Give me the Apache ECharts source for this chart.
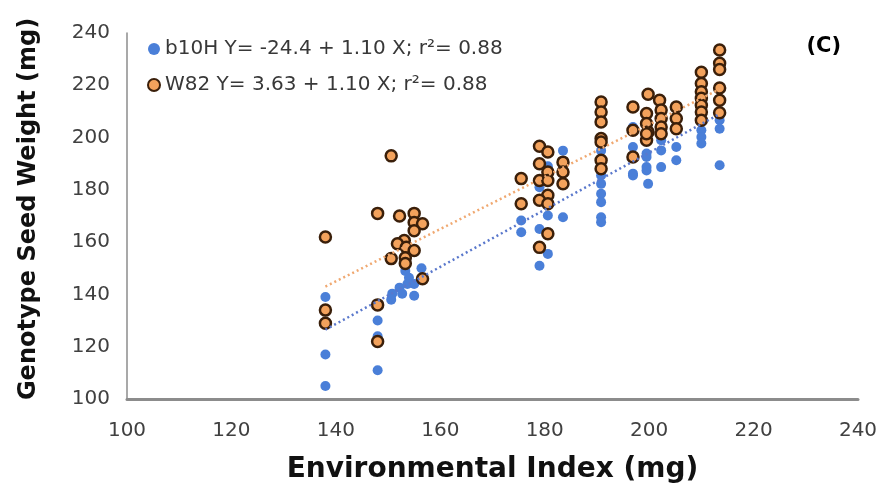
<!DOCTYPE html>
<html>
<head>
<meta charset="utf-8">
<script src="https://cdn.jsdelivr.net/npm/echarts@6/dist/echarts.min.js"></script>
<style>
  html, body { margin: 0; padding: 0; background: #fff; }
  #chart { width: 891px; height: 489px; }
</style>
</head>
<body>
<div id="chart"></div>
<script>
// axis ticks
const xTicks = [100, 120, 140, 160, 180, 200, 220, 240];
const yTicks = [100, 120, 140, 160, 180, 200, 220, 240];

// b10H points [environmental index, seed weight]
const b10H = [
  [138, 139], [138, 117], [138, 105],
  [148, 130], [148, 124], [148, 111],
  [156.4, 150], [153.3, 149], [154, 146.4], [155, 144], [152.2, 142.6], [150.8, 140.3],
  [150.6, 138], [155, 139.5], [152.7, 140.3], [153.7, 144],
  [175.5, 168.3], [175.5, 163.8],
  [179, 181], [180.6, 170.2], [179, 165], [180.6, 155.5], [179, 151], [180.6, 189],
  [183.5, 195], [183.5, 169.5],
  [190.8, 195], [190.8, 185.5], [190.8, 182.3], [190.8, 178.5], [190.8, 175.3], [190.8, 169.5], [190.8, 167.6],
  [196.9, 204], [196.9, 196.4], [196.9, 186.2], [199.5, 188.7], [199.8, 182.3], [199.5, 192.6], [199.5, 193.9],
  [202.3, 195.1], [205.2, 196.4], [202.3, 188.7], [205.2, 191.3], [199.5, 187.4], [196.9, 185.5], [202.3, 199],
  [210, 202.8], [210, 200.2], [210, 197.7],
  [213.5, 206.6], [213.5, 203.4], [213.5, 189.4]
];

// W82 points
const w82 = [
  [138, 162], [138, 134], [138, 129],
  [148, 171], [148, 136], [148, 122],
  [150.6, 193], [152.2, 170], [155, 171], [155, 167.5], [156.6, 167], [155, 164.4], [153.1, 160.6],
  [151.8, 159.4], [153.5, 158], [155, 156.8], [150.6, 153.7], [153.3, 154], [153.3, 151.8], [156.6, 146],
  [175.5, 184.3], [175.5, 174.7],
  [179, 196.7], [180.6, 194.5], [179, 190], [180.6, 186.8], [179, 183.6], [180.6, 183.6], [180.6, 177.9],
  [179, 176], [180.6, 174.7], [180.6, 163.2], [179, 158],
  [183.5, 190.6], [183.5, 186.8], [183.5, 182.3],
  [190.8, 213.6], [190.8, 209.8], [190.8, 206], [190.8, 199.6], [190.8, 198.3], [190.8, 191.3], [190.8, 188.1],
  [196.9, 211.7], [199.5, 209.2], [199.5, 205.4], [196.9, 202.8], [199.8, 202.1], [199.5, 199], [196.9, 192.6],
  [199.8, 216.6], [202, 214.3], [205.2, 211.7], [202.3, 210.5], [202.3, 207.3], [205.2, 207.3],
  [202.3, 204], [205.2, 203.4], [199.5, 201.5], [202.3, 201.5],
  [210, 225], [210, 220.7], [210, 217.5], [210, 215], [210, 212.4], [210, 209.8], [210, 206.6],
  [213.5, 233.5], [213.5, 228.4], [213.5, 226], [213.5, 219], [213.5, 214.3], [213.5, 209.5]
];

// trend line end points
const b10HTrend = [[138, 126.5], [213.5, 209]];
const w82Trend = [[138, 143], [213.5, 218.5]];

const b10HName = 'b10H Y= -24.4 + 1.10 X; r²= 0.88';
const w82Name = 'W82 Y= 3.63 + 1.10 X; r²= 0.88';

const font = 'DejaVu Sans, Arial, sans-serif';

const chart = echarts.init(document.getElementById('chart'));
const option = {
  animation: false,
  textStyle: { fontFamily: font },
  grid: { left: 127, right: 33, top: 33, bottom: 90, outerBoundsMode: 'none', containLabel: false },
  graphic: [{
    type: 'text',
    right: 50,
    top: 36,
    style: { text: '(C)', font: 'bold 21px ' + font, fill: '#000' }
  }],
  legend: {
    orient: 'vertical',
    left: 142,
    top: 34,
    itemGap: 16,
    itemWidth: 12,
    itemHeight: 12,
    textStyle: { fontSize: 20, color: '#383838', fontFamily: font },
    data: [b10HName, w82Name]
  },
  xAxis: {
    type: 'value',
    min: xTicks[0],
    max: xTicks[xTicks.length - 1],
    interval: 20,
    name: 'Environmental Index (mg)',
    nameLocation: 'middle',
    nameGap: 57,
    nameTextStyle: { fontSize: 28, fontWeight: 'bold', color: '#111', fontFamily: font },
    axisLine: { lineStyle: { color: '#8c8c8c', width: 3 } },
    axisTick: { show: false },
    axisLabel: { fontSize: 20, color: '#404040', margin: 22 },
    splitLine: { show: false }
  },
  yAxis: {
    type: 'value',
    min: yTicks[0],
    max: yTicks[yTicks.length - 1],
    interval: 20,
    name: 'Genotype Seed Weight (mg)',
    nameLocation: 'middle',
    nameGap: 86,
    nameTextStyle: { fontSize: 24, fontWeight: 'bold', color: '#111', fontFamily: font, padding: [0, 0, 0, 14] },
    axisLine: { show: true, lineStyle: { color: '#8c8c8c', width: 1.5 } },
    axisTick: { show: false },
    axisLabel: { fontSize: 20, color: '#404040', margin: 17 },
    splitLine: { show: false }
  },
  series: [
    {
      name: b10HName,
      type: 'scatter',
      data: b10H,
      symbolSize: 10,
      itemStyle: { color: '#4a7fd8', opacity: 1 },
      z: 2
    },
    {
      name: w82Name,
      type: 'scatter',
      data: w82,
      symbolSize: 11,
      itemStyle: { color: '#f3a25c', borderColor: '#3a1f0a', borderWidth: 2.5, opacity: 1 },
      z: 3
    },
    {
      type: 'line',
      data: b10HTrend,
      symbol: 'none',
      lineStyle: { color: '#5a78cc', width: 2.5, type: [2, 3] },
      z: 4
    },
    {
      type: 'line',
      data: w82Trend,
      symbol: 'none',
      lineStyle: { color: '#f0a870', width: 2.5, type: [2, 3] },
      z: 4
    }
  ]
};
chart.setOption(option);
</script>
</body>
</html>
